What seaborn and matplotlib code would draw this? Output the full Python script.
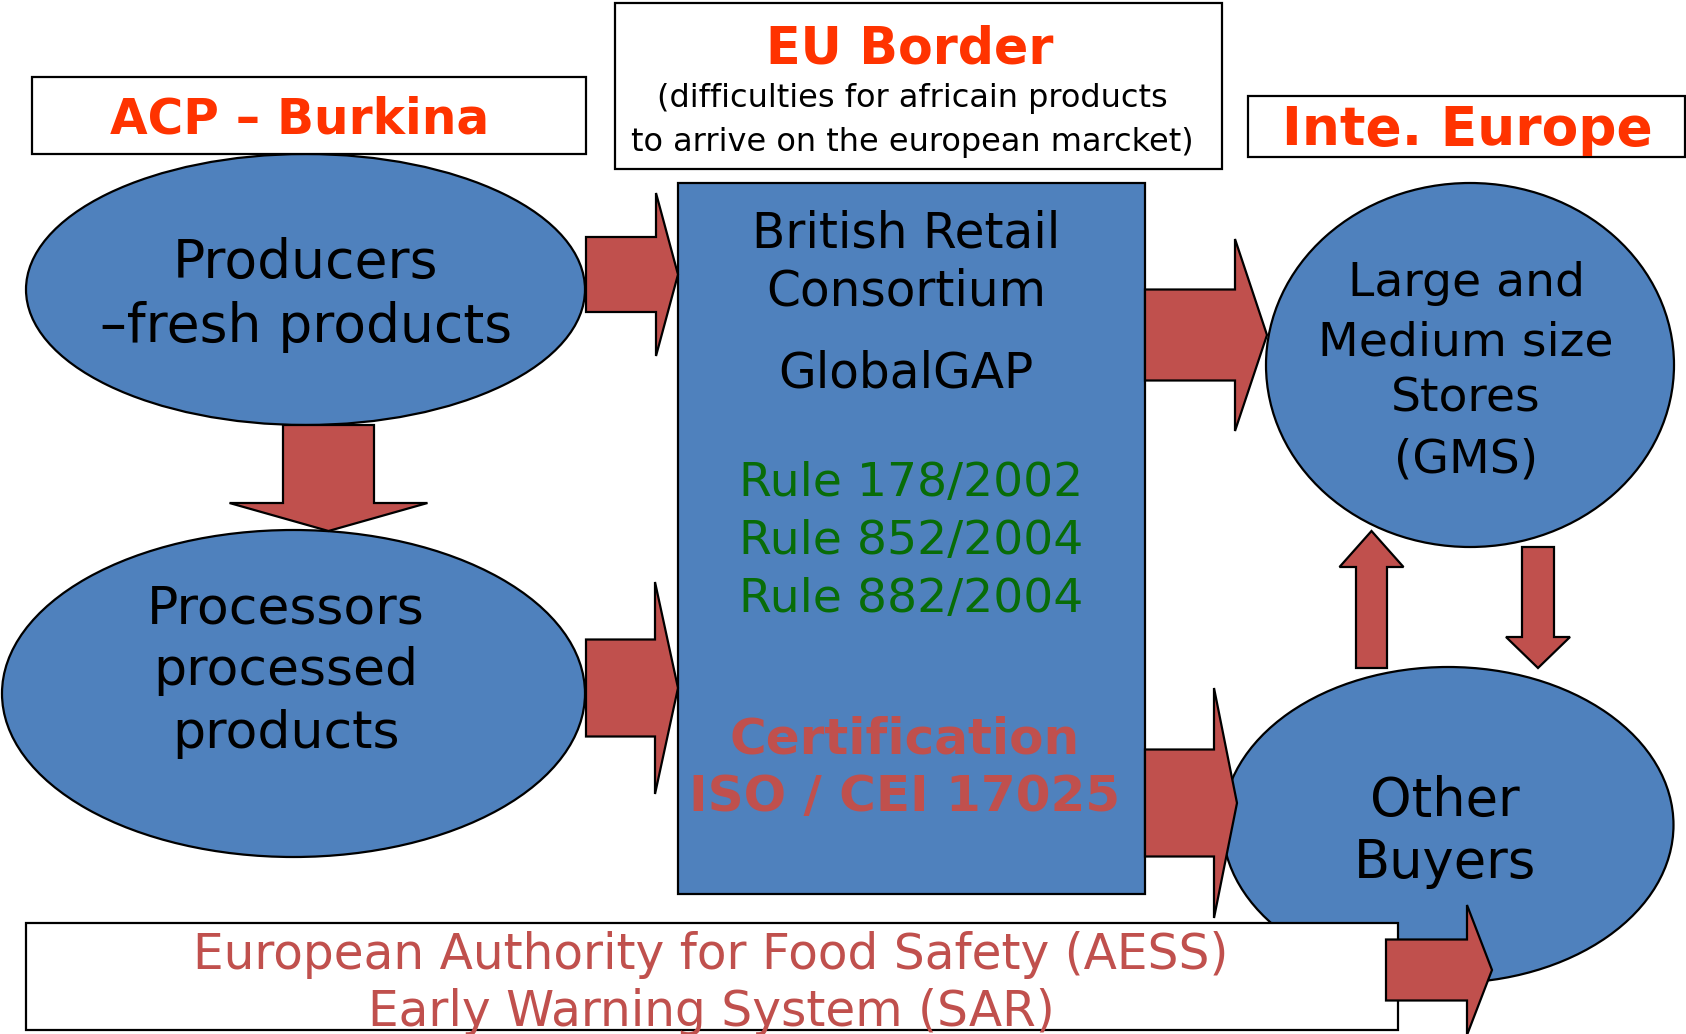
"""
Food safety chain diagram: ACP producers -> EU border -> European buyers
"""

import numpy as np
import matplotlib
matplotlib.use('Agg')
import matplotlib.pyplot as plt
from matplotlib.patches import Ellipse, Rectangle, Polygon
import seaborn as sns

sns.set_theme(style="white")
plt.rcParams['font.family'] = ['DejaVu Sans']

# ── texts ──────────────────────────────────────────────
HEADERS = ['ACP – Burkina', 'EU Border', 'Inte. Europe']
EU_NOTE = ['(difficulties for africain products', 'to arrive on the european marcket)']
PRODUCERS = ['Producers', '–fresh products']
PROCESSORS = ['Processors', 'processed', 'products']
STANDARDS = ['British Retail', 'Consortium', 'GlobalGAP']
RULES = ['Rule 178/2002', 'Rule 852/2004', 'Rule 882/2004']
CERT = ['Certification', 'ISO / CEI 17025']
GMS = ['Large and', 'Medium size', 'Stores', '(GMS)']
OTHER = ['Other', 'Buyers']
AUTHORITY = ['European Authority for Food Safety (AESS)', 'Early Warning System (SAR)']

# ── colours ────────────────────────────────────────────
BLUE = '#4F81BD'
RED = '#C0504D'
ORANGE = '#FF3300'
GREEN = '#086C08'

W, H = 1686, 1034
fig = plt.figure(figsize=(W / 100, H / 100), dpi=100)
ax = fig.add_axes([0, 0, 1, 1])
ax.set_xlim(0, W)
ax.set_ylim(H, 0)
ax.axis('off')

LW = 1.6


def box(x0, y0, x1, y1, fc='white', z=3):
    ax.add_patch(Rectangle((x0, y0), x1 - x0, y1 - y0, fc=fc, ec='black', lw=LW, zorder=z))


def oval(cx, cy, w, h):
    ax.add_patch(Ellipse((cx, cy), w, h, fc=BLUE, ec='black', lw=LW, zorder=2))


def block_arrow(tail, tip, body_w, head_w, head_len):
    x0, y0 = tail
    x1, y1 = tip
    L = np.hypot(x1 - x0, y1 - y0)
    ux, uy = (x1 - x0) / L, (y1 - y0) / L
    px, py = -uy, ux
    hb = L - head_len
    local = [(0, body_w / 2), (hb, body_w / 2), (hb, head_w / 2), (L, 0),
             (hb, -head_w / 2), (hb, -body_w / 2), (0, -body_w / 2)]
    pts = [(x0 + s * ux + t * px, y0 + s * uy + t * py) for s, t in local]
    ax.add_patch(Polygon(pts, closed=True, fc=RED, ec='black', lw=LW, zorder=4))


def lines(texts, cx, ys, size, color='black', weight='normal'):
    for t, y in zip(texts, ys):
        ax.text(cx, y, t, ha='center', va='center', fontsize=size,
                color=color, fontweight=weight, zorder=6)


# ── shapes ─────────────────────────────────────────────
box(32, 77, 586, 154)                  # ACP
box(615, 3, 1222, 169)                 # EU border
box(1248, 96, 1685, 157)               # Inte. Europe
oval(305.5, 289.5, 559, 271)           # producers
oval(293.5, 693.5, 583, 327)           # processors
box(678, 183, 1145, 894, fc=BLUE, z=2)  # standards block
oval(1470, 365, 408, 364)              # GMS
oval(1448, 825, 451, 316)              # other buyers
box(26, 923, 1398, 1030)               # authority

# ── arrows ─────────────────────────────────────────────
block_arrow((586, 274.5), (678, 274.5), 75, 163, 22)
block_arrow((328.5, 425), (328.5, 531), 91, 198, 28)
block_arrow((586, 688), (678, 688), 97, 212, 23)
block_arrow((1145, 335), (1267, 335), 91, 192, 32)
block_arrow((1145, 803), (1237, 803), 107, 230, 23)
block_arrow((1386, 970), (1492, 970), 61, 130, 25)
block_arrow((1371.5, 668), (1371.5, 531), 31, 64, 36)
block_arrow((1538, 547), (1538, 668), 32, 64, 31)

# ── texts ──────────────────────────────────────────────
lines([HEADERS[0]], 300, [120], 35, ORANGE, 'bold')
lines([HEADERS[1]], 910, [49], 36.5, ORANGE, 'bold')
lines([HEADERS[2]], 1467, [130], 38.5, ORANGE, 'bold')
lines(EU_NOTE, 912, [98, 143], 23)

lines(PRODUCERS, 306, [263, 327], 38.5)
lines(PROCESSORS, 286, [609, 671, 734], 37.5)

lines(STANDARDS, 906, [234, 292, 374], 35)
lines(RULES, 911, [483, 541, 599], 34, GREEN)
lines(CERT, 905, [740, 797], 36, RED, 'bold')

lines(GMS, 1466, [284, 343, 399, 460], 34)
lines(OTHER, 1445, [801, 863], 38)

lines(AUTHORITY, 711, [955, 1012], 35, RED)

fig.savefig('out.png', dpi=100)
plt.close(fig)
